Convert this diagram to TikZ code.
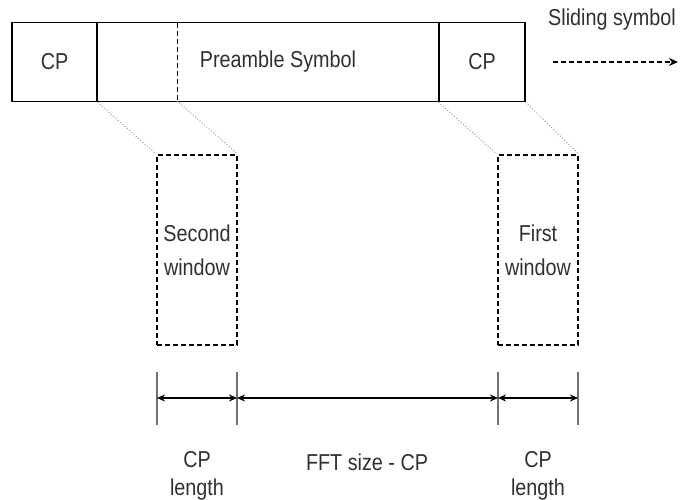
\documentclass[tikz,border=0pt]{standalone}
\usepackage{fontspec}
\setmainfont[FakeStretch=0.86]{Liberation Sans}
\usetikzlibrary{arrows.meta}
\definecolor{tickgray}{HTML}{707070}
\definecolor{dotgray}{HTML}{A0A0A0}
\definecolor{txt}{HTML}{303030}
\tikzset{
  seg/.style={draw=black, line width=1.3pt, minimum height=79pt, inner sep=0pt},
  winbox/.style={draw=black, line width=1.7pt, dash pattern=on 5pt off 3pt, minimum width=80pt, minimum height=190pt, inner sep=0pt, align=center, text=txt, font=\fontsize{23}{34}\selectfont},
  lbl/.style={font=\fontsize{23}{25}\selectfont, text=txt, inner sep=0pt},
  zoomline/.style={draw=dotgray, line width=1pt, dotted},
  tickline/.style={draw=tickgray, line width=1.7pt},
  dimarrow/.style={draw=black, line width=1.3pt, {Stealth[length=8pt,width=7pt]}-{Stealth[length=8pt,width=7pt]}},
}
\begin{document}
\begin{tikzpicture}[x=1pt,y=-1pt]
\useasboundingbox (0,0) rectangle (689,500);
% preamble symbol segments
\node[seg, minimum width=85pt] (cp1) at (54.5,62) {};
\node[seg, minimum width=342pt] (pre) at (268,62) {};
\node[seg, minimum width=86pt] (cp2) at (482,62) {};
\node[lbl] (cp1t) at (54.5,62) {CP};
\node[lbl] (pret) at (278,62) {Preamble Symbol};
\node[lbl] (cp2t) at (482,62) {CP};
\coordinate (dtop) at (177,23);
\coordinate (dbot) at (177,101);
\draw[line width=1pt, dash pattern=on 5pt off 3pt] (dtop) -- (dbot);
% sliding symbol
\node[lbl] (slide) at (612,20) {Sliding symbol};
\coordinate (sa) at (553,62);
\coordinate (sb) at (678,62);
\draw[line width=1.5pt, dash pattern=on 5pt off 3pt, -{Stealth[length=9pt,width=8pt]}] (sa) -- (sb);
% windows
\node[winbox] (w2) at (197,250) {Second\\window};
\node[winbox] (w1) at (538,250) {First\\window};
% zoom lines
\draw[zoomline] (cp1.south east) -- (w2.north west);
\draw[zoomline] (dbot) -- (w2.north east);
\draw[zoomline] (cp2.south west) -- (w1.north west);
\draw[zoomline] (cp2.south east) -- (w1.north east);
% dimension ticks
\foreach \n/\x in {ta/157,tb/237,tc/498,td/578}{
  \coordinate (\n u) at (\x,372);
  \coordinate (\n d) at (\x,425);
  \coordinate (\n) at (\x,398);
  \draw[tickline] (\n u) -- (\n d);
}
\draw[dimarrow] (ta) -- (tb);
\draw[dimarrow] (tb) -- (tc);
\draw[dimarrow] (tc) -- (td);
% labels
\node[lbl, anchor=base] (l1a) at (197,467) {CP};
\node[lbl, anchor=base] (l1b) at (197,495) {length};
\node[lbl, anchor=base] (l2) at (367,470) {FFT size - CP};
\node[lbl, anchor=base] (l3a) at (538,467) {CP};
\node[lbl, anchor=base] (l3b) at (538,495) {length};
\end{tikzpicture}
\end{document}
